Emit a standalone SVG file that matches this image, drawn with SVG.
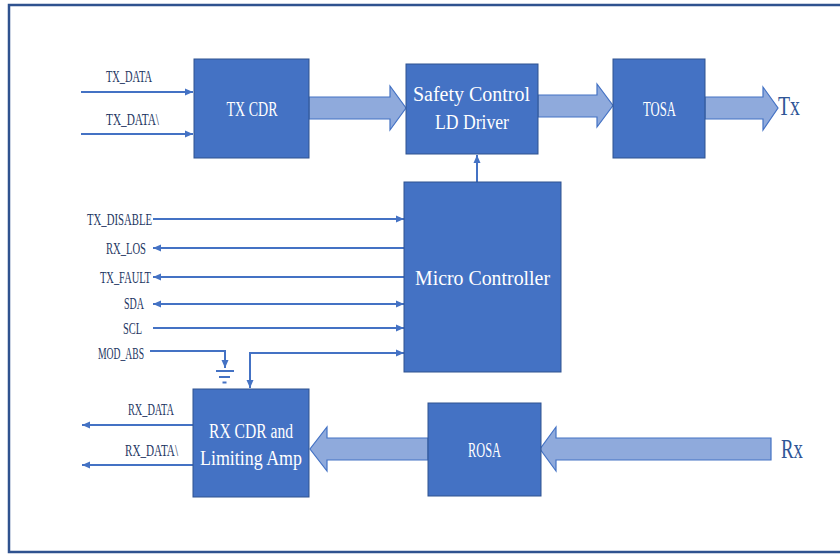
<svg xmlns="http://www.w3.org/2000/svg" width="840" height="554" viewBox="0 0 840 554">
<style>
.box{fill:#4472C4;stroke:#2F528F;stroke-width:1}
.fat{fill:#8FAADC;stroke:#4472C4;stroke-width:1.2}
.ln{fill:none;stroke:#4472C4;stroke-width:2}
.bt{font-family:"Liberation Serif",serif;font-size:20px;fill:#FFFFFF}
.lb{font-family:"Liberation Serif",serif;font-size:16px;fill:#1F3864}
.io{font-family:"Liberation Serif",serif;font-size:27px;fill:#2F5597}
</style>
<defs>
<marker id="ah" markerUnits="userSpaceOnUse" markerWidth="10" markerHeight="10" viewBox="0 0 10 10" refX="9" refY="5" orient="auto-start-reverse">
<path d="M1,1.5 L9,5 L1,8.5 Z" fill="#4472C4"/>
</marker>
</defs>
<rect x="9" y="5" width="840" height="547" fill="none" stroke="#2F528F" stroke-width="2.5"/>
<g id="connectors">
<polygon class="fat" points="309,97 390,97 390,86 406,108 390,130 390,119 309,119"/>
<polygon class="fat" points="538,95 597,95 597,84 613,105.5 597,127 597,117 538,117"/>
<polygon class="fat" points="705,97 763,97 763,87 778,108 763,130 763,119 705,119"/>
<polygon class="fat" points="428,438 327,438 327,427 310,449 327,471 327,460 428,460"/>
<polygon class="fat" points="771,438 556,438 556,427 540,449 556,471 556,460 771,460"/>
<line class="ln" x1="81" y1="92" x2="193" y2="92" marker-end="url(#ah)"/>
<line class="ln" x1="81" y1="134" x2="193" y2="134" marker-end="url(#ah)"/>
<line class="ln" x1="477" y1="182" x2="477" y2="155" marker-end="url(#ah)"/>
<line class="ln" x1="153" y1="219" x2="404" y2="219" marker-end="url(#ah)"/>
<line class="ln" x1="404" y1="248" x2="153" y2="248" marker-end="url(#ah)"/>
<line class="ln" x1="404" y1="277" x2="153" y2="277" marker-end="url(#ah)"/>
<line class="ln" x1="153" y1="304" x2="404" y2="304" marker-start="url(#ah)" marker-end="url(#ah)"/>
<line class="ln" x1="153" y1="328" x2="404" y2="328" marker-end="url(#ah)"/>
<polyline class="ln" points="150,351 225,351 225,368" marker-end="url(#ah)"/>
<line class="ln" x1="216" y1="371" x2="234" y2="371"/>
<line class="ln" x1="219" y1="377" x2="230" y2="377"/>
<line class="ln" x1="222.5" y1="382.5" x2="226.5" y2="382.5" stroke-width="3"/>
<polyline class="ln" points="404,353 250,353 250,388" marker-start="url(#ah)" marker-end="url(#ah)"/>
<line class="ln" x1="193" y1="425" x2="82" y2="425" marker-end="url(#ah)"/>
<line class="ln" x1="193" y1="465" x2="82" y2="465" marker-end="url(#ah)"/>
</g>
<g id="txcdr">
<rect class="box" x="194" y="59" width="115" height="99"/>
<text class="bt" x="252" y="116" text-anchor="middle" textLength="51" lengthAdjust="spacingAndGlyphs">TX CDR</text>
</g>
<g id="safety">
<rect class="box" x="406" y="64" width="132" height="90"/>
<text class="bt" x="471.5" y="101" text-anchor="middle" textLength="117" lengthAdjust="spacingAndGlyphs">Safety Control</text>
<text class="bt" x="472" y="129" text-anchor="middle" textLength="74" lengthAdjust="spacingAndGlyphs">LD Driver</text>
</g>
<g id="tosa">
<rect class="box" x="613" y="59" width="92" height="99"/>
<text class="bt" x="659.5" y="116" text-anchor="middle" textLength="33" lengthAdjust="spacingAndGlyphs">TOSA</text>
</g>
<g id="micro">
<rect class="box" x="404" y="182" width="157" height="190"/>
<text class="bt" x="482.5" y="285" text-anchor="middle" textLength="135" lengthAdjust="spacingAndGlyphs">Micro Controller</text>
</g>
<g id="rxcdr">
<rect class="box" x="193" y="389" width="116" height="108"/>
<text class="bt" x="251" y="438" text-anchor="middle" textLength="84" lengthAdjust="spacingAndGlyphs">RX CDR and</text>
<text class="bt" x="251" y="465" text-anchor="middle" textLength="102" lengthAdjust="spacingAndGlyphs">Limiting Amp</text>
</g>
<g id="rosa">
<rect class="box" x="428" y="403" width="113" height="93"/>
<text class="bt" x="484.5" y="457" text-anchor="middle" textLength="33" lengthAdjust="spacingAndGlyphs">ROSA</text>
</g>
<g id="labels">
<text class="lb" x="129" y="82" text-anchor="middle" textLength="46" lengthAdjust="spacingAndGlyphs">TX_DATA</text>
<text class="lb" x="132.5" y="125" text-anchor="middle" textLength="53" lengthAdjust="spacingAndGlyphs">TX_DATA\</text>
<text class="lb" x="152" y="225" text-anchor="end" textLength="65" lengthAdjust="spacingAndGlyphs">TX_DISABLE</text>
<text class="lb" x="146" y="254" text-anchor="end" textLength="40" lengthAdjust="spacingAndGlyphs">RX_LOS</text>
<text class="lb" x="151" y="283" text-anchor="end" textLength="51" lengthAdjust="spacingAndGlyphs">TX_FAULT</text>
<text class="lb" x="144" y="309" text-anchor="end" textLength="20" lengthAdjust="spacingAndGlyphs">SDA</text>
<text class="lb" x="142" y="334" text-anchor="end" textLength="19" lengthAdjust="spacingAndGlyphs">SCL</text>
<text class="lb" x="144" y="359" text-anchor="end" textLength="46" lengthAdjust="spacingAndGlyphs">MOD_ABS</text>
<text class="lb" x="151" y="415" text-anchor="middle" textLength="46" lengthAdjust="spacingAndGlyphs">RX_DATA</text>
<text class="lb" x="151.5" y="456" text-anchor="middle" textLength="53" lengthAdjust="spacingAndGlyphs">RX_DATA\</text>
<text class="io" x="778" y="115" textLength="22" lengthAdjust="spacingAndGlyphs">Tx</text>
<text class="io" x="781" y="458" textLength="22" lengthAdjust="spacingAndGlyphs">Rx</text>
</g>
</svg>
